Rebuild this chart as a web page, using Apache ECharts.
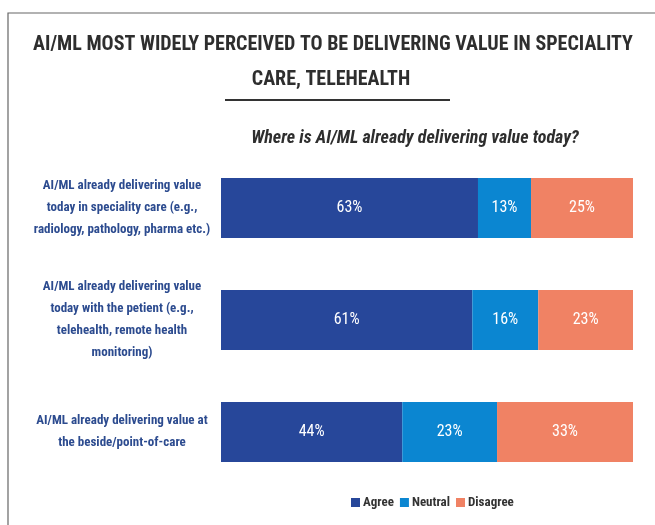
<!DOCTYPE html>
<html>
<head>
<meta charset="utf-8">
<script src="https://cdn.jsdelivr.net/npm/echarts@6/dist/echarts.min.js"></script>
<style>
  html, body { margin: 0; padding: 0; background: #fff; }
  #chart { width: 655px; height: 525px; }
</style>
</head>
<body>
<div id="chart"></div>
<script>
var categories = [
  'AI/ML already delivering value\ntoday in speciality care (e.g.,\nradiology, pathology, pharma etc.)',
  'AI/ML already delivering value\ntoday with the petient (e.g.,\ntelehealth, remote health\nmonitoring)',
  'AI/ML already delivering value at\nthe beside/point-of-care'
];
var agree = [63, 61, 44];
var neutral = [13, 16, 23];
var disagree = [25, 23, 33];
var titleLines = ['AI/ML MOST WIDELY PERCEIVED TO BE DELIVERING VALUE IN SPECIALITY', 'CARE, TELEHEALTH'];
var subtitle = 'Where is AI/ML already delivering value today?';

var font = '"Roboto Condensed", "Open Sans Condensed", sans-serif';
var totals = agree.map(function (v, i) { return v + neutral[i] + disagree[i]; });

function shares(arr) {
  return arr.map(function (v, i) { return { value: v / totals[i] * 100, raw: v }; });
}

function makeSeries(name, arr, color) {
  return {
    name: name,
    type: 'bar',
    stack: 'all',
    barWidth: 60,
    data: shares(arr),
    itemStyle: { color: color },
    label: {
      show: true,
      position: 'inside',
      color: '#fff',
      fontFamily: font,
      fontSize: 16,
      formatter: function (p) { return p.data.raw + '%'; }
    }
  };
}

function centeredText(text, x, y, size, italic) {
  return {
    type: 'text',
    x: x,
    y: y,
    style: {
      text: text,
      align: 'center',
      verticalAlign: 'middle',
      fontFamily: font,
      fontSize: size,
      fontWeight: 'bold',
      fontStyle: italic ? 'italic' : 'normal',
      fill: '#2e2e2e'
    }
  };
}

var myChart = echarts.init(document.getElementById('chart'));
option = {
  animation: false,
  graphic: [{
    type: 'rect',
    shape: { x: 8, y: 13, width: 700, height: 600 },
    style: { fill: 'none', stroke: '#666', lineWidth: 1.2 }
  },
    centeredText(titleLines[0], 333, 45, 20),
    centeredText(titleLines[1], 331, 80, 20),
  {
    type: 'line',
    shape: { x1: 225, y1: 100, x2: 450, y2: 100 },
    style: { stroke: '#333', lineWidth: 2 }
  },
    centeredText(subtitle, 415, 138, 18, true)
  ],
  legend: {
    bottom: 11,
    left: 346,
    itemWidth: 9,
    itemHeight: 9,
    itemGap: 6,
    icon: 'rect',
    textStyle: { fontFamily: font, fontSize: 13, fontWeight: 'bold', color: '#333', padding: [0, 0, 0, -2] }
  },
  grid: { left: 221, right: 22, top: 152, bottom: 37 },
  xAxis: { type: 'value', min: 0, max: 100, show: false },
  yAxis: {
    type: 'category',
    inverse: true,
    data: categories,
    axisLine: { show: false },
    axisTick: { show: false },
    axisLabel: {
      margin: 99,
      align: 'center',
      fontFamily: font,
      fontSize: 13,
      fontWeight: 'bold',
      lineHeight: 22,
      color: '#2c4b8f'
    }
  },
  series: [
    makeSeries('Agree', agree, '#27479a'),
    makeSeries('Neutral', neutral, '#0b86d1'),
    makeSeries('Disagree', disagree, '#f08264')
  ]
};
myChart.setOption(option);
</script>
</body>
</html>
